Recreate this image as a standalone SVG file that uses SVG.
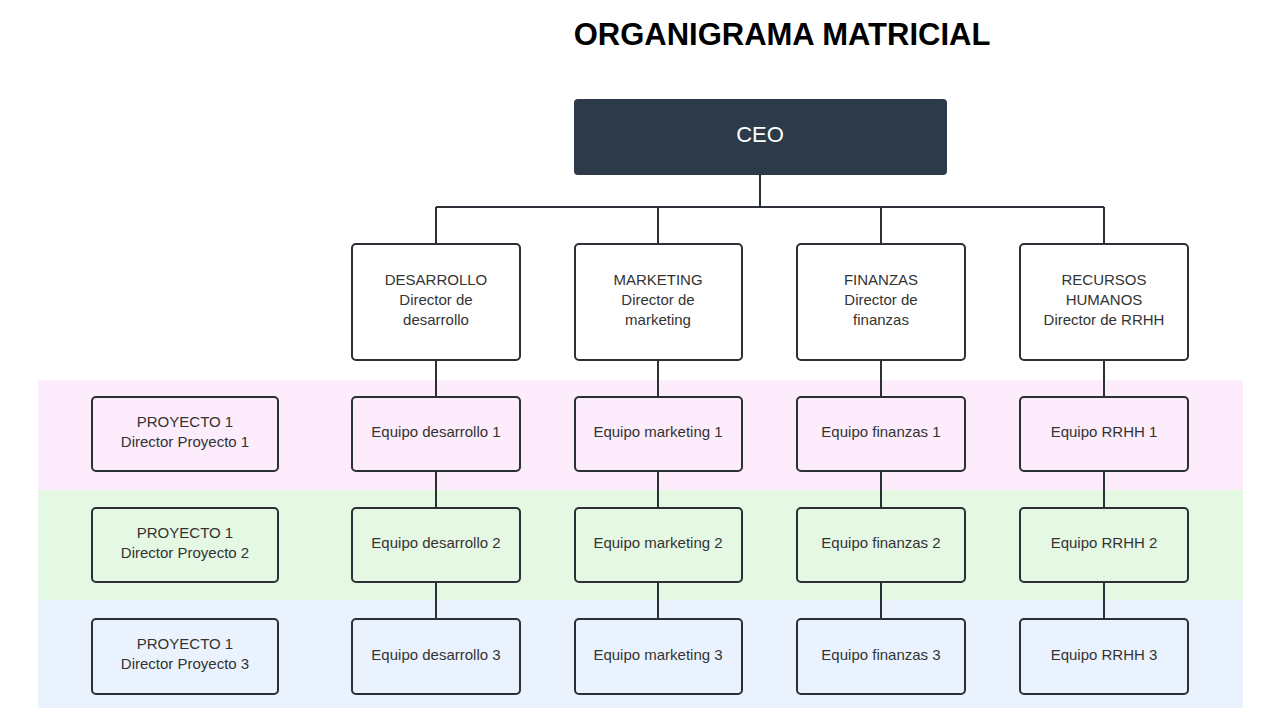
<svg xmlns="http://www.w3.org/2000/svg" width="1280" height="720" viewBox="0 0 1280 720">
<style>
.b{stroke:#2b2f36;stroke-width:2;}
.t{font-family:"Liberation Sans",Arial,sans-serif;font-size:15px;fill:#333;text-anchor:middle;}
.c{stroke:#2b2f36;stroke-width:2;fill:none;}
</style>
<rect width="1280" height="720" fill="#fff"/>
<text x="782" y="45" font-family="Liberation Sans,Arial,sans-serif" font-weight="bold" font-size="31" text-anchor="middle" fill="#000">ORGANIGRAMA MATRICIAL</text>
<rect x="38" y="380" width="1205" height="110" fill="#fcecfc"/>
<rect x="38" y="490" width="1205" height="110" fill="#e5f8e3"/>
<rect x="38" y="600" width="1205" height="108" fill="#eaf3fd"/>
<g id="connectors">
<path class="c" d="M760 175V207M436 207H1104M436 207V244M658 207V244M881 207V244M1104 207V244"/>
<path class="c" d="M436 360V397M436 471V508M436 582V619M658 360V397M658 471V508M658 582V619M881 360V397M881 471V508M881 582V619M1104 360V397M1104 471V508M1104 582V619"/>
</g>
<g id="ceo"><rect x="574" y="99" width="373" height="76" rx="4" fill="#2c3a4a"/><text x="760" y="142" font-family="Liberation Sans,Arial,sans-serif" font-size="22" fill="#fff" text-anchor="middle">CEO</text></g>
<g id="h1"><rect class="b" x="352" y="244" width="168" height="116" rx="4" fill="#fff"/><text class="t" x="436" y="285">DESARROLLO</text><text class="t" x="436" y="305">Director de</text><text class="t" x="436" y="325">desarrollo</text></g>
<g id="h2"><rect class="b" x="575" y="244" width="167" height="116" rx="4" fill="#fff"/><text class="t" x="658" y="285">MARKETING</text><text class="t" x="658" y="305">Director de</text><text class="t" x="658" y="325">marketing</text></g>
<g id="h3"><rect class="b" x="797" y="244" width="168" height="116" rx="4" fill="#fff"/><text class="t" x="881" y="285">FINANZAS</text><text class="t" x="881" y="305">Director de</text><text class="t" x="881" y="325">finanzas</text></g>
<g id="h4"><rect class="b" x="1020" y="244" width="168" height="116" rx="4" fill="#fff"/><text class="t" x="1104" y="285">RECURSOS</text><text class="t" x="1104" y="305">HUMANOS</text><text class="t" x="1104" y="325">Director de RRHH</text></g>
<g id="p1"><rect class="b" x="92" y="397" width="186" height="74" rx="4" fill="#fcecfc"/><text class="t" x="185" y="427">PROYECTO 1</text><text class="t" x="185" y="447">Director Proyecto 1</text></g>
<g id="p2"><rect class="b" x="92" y="508" width="186" height="74" rx="4" fill="#e5f8e3"/><text class="t" x="185" y="538">PROYECTO 1</text><text class="t" x="185" y="558">Director Proyecto 2</text></g>
<g id="p3"><rect class="b" x="92" y="619" width="186" height="75" rx="4" fill="#eaf3fd"/><text class="t" x="185" y="649">PROYECTO 1</text><text class="t" x="185" y="669">Director Proyecto 3</text></g>
<g id="d1"><rect class="b" x="352" y="397" width="168" height="74" rx="4" fill="#fcecfc"/><text class="t" x="436" y="437">Equipo desarrollo 1</text></g>
<g id="d2"><rect class="b" x="352" y="508" width="168" height="74" rx="4" fill="#e5f8e3"/><text class="t" x="436" y="548">Equipo desarrollo 2</text></g>
<g id="d3"><rect class="b" x="352" y="619" width="168" height="75" rx="4" fill="#eaf3fd"/><text class="t" x="436" y="660">Equipo desarrollo 3</text></g>
<g id="m1"><rect class="b" x="575" y="397" width="167" height="74" rx="4" fill="#fcecfc"/><text class="t" x="658" y="437">Equipo marketing 1</text></g>
<g id="m2"><rect class="b" x="575" y="508" width="167" height="74" rx="4" fill="#e5f8e3"/><text class="t" x="658" y="548">Equipo marketing 2</text></g>
<g id="m3"><rect class="b" x="575" y="619" width="167" height="75" rx="4" fill="#eaf3fd"/><text class="t" x="658" y="660">Equipo marketing 3</text></g>
<g id="f1"><rect class="b" x="797" y="397" width="168" height="74" rx="4" fill="#fcecfc"/><text class="t" x="881" y="437">Equipo finanzas 1</text></g>
<g id="f2"><rect class="b" x="797" y="508" width="168" height="74" rx="4" fill="#e5f8e3"/><text class="t" x="881" y="548">Equipo finanzas 2</text></g>
<g id="f3"><rect class="b" x="797" y="619" width="168" height="75" rx="4" fill="#eaf3fd"/><text class="t" x="881" y="660">Equipo finanzas 3</text></g>
<g id="r1"><rect class="b" x="1020" y="397" width="168" height="74" rx="4" fill="#fcecfc"/><text class="t" x="1104" y="437">Equipo RRHH 1</text></g>
<g id="r2"><rect class="b" x="1020" y="508" width="168" height="74" rx="4" fill="#e5f8e3"/><text class="t" x="1104" y="548">Equipo RRHH 2</text></g>
<g id="r3"><rect class="b" x="1020" y="619" width="168" height="75" rx="4" fill="#eaf3fd"/><text class="t" x="1104" y="660">Equipo RRHH 3</text></g>
</svg>
